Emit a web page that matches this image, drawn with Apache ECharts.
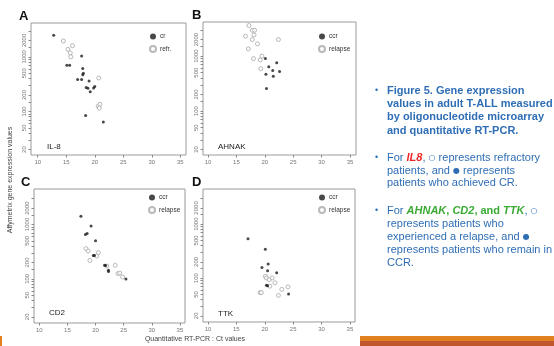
<!DOCTYPE html>
<html>
<head>
<meta charset="utf-8">
<script src="https://cdn.jsdelivr.net/npm/echarts@6/dist/echarts.min.js"></script>
<style>html,body{margin:0;padding:0;background:#fff;}#c{width:554px;height:346px;}</style>
</head>
<body>
<div id="c"></div>
<script>
// ---- data ----
const xTicks = [10, 15, 20, 25, 30, 35];
const yTicks = [20, 50, 100, 200, 500, 1000, 2000];
const yMinorTicks = [20, 30, 40, 50, 60, 70, 80, 90, 100, 150, 200, 300, 400, 500, 600, 700, 800, 900, 1000, 1500, 2000, 3000];

// A: IL-8
const il8CrCt   = [12.8, 17.7, 15.1, 15.6, 17.9, 18.0, 17.9, 17.0, 17.7, 19.0, 18.5, 18.8, 19.2, 19.8, 20.0, 18.4, 21.5];
const il8CrExpr = [2500, 1040, 700, 700, 610, 500, 470, 385, 385, 360, 275, 265, 230, 270, 285, 84, 64];
const il8RefCt   = [14.5, 16.1, 15.3, 15.7, 15.8, 20.7, 20.6, 20.9, 20.8];
const il8RefExpr = [1950, 1600, 1370, 1180, 1000, 410, 125, 135, 115];

// B: AHNAK
const ahnakRelCt   = [17.2, 17.8, 18.2, 18.1, 16.6, 17.8, 18.7, 22.4, 17.1, 18.0, 19.5, 19.2, 19.3];
const ahnakRelExpr = [3600, 2950, 2950, 2430, 2300, 2000, 1670, 2000, 1350, 900, 1000, 850, 590];
const ahnakCcrCt   = [20.1, 22.1, 20.7, 21.4, 22.6, 20.2, 21.5, 20.3];
const ahnakCcrExpr = [900, 760, 640, 545, 525, 470, 430, 257];

// C: CD2
const cd2CcrCt   = [17.4, 19.2, 18.2, 18.5, 20.0, 19.6, 19.8, 21.6, 21.8, 22.3, 22.3, 25.4];
const cd2CcrExpr = [1420, 940, 655, 685, 500, 270, 268, 178, 176, 144, 136, 99];
const cd2RelCt   = [18.3, 18.7, 20.5, 20.2, 19.0, 23.5, 22.0, 24.0, 24.3, 24.8];
const cd2RelExpr = [360, 325, 303, 263, 218, 177, 172, 125, 128, 108];

// D: TTK
const ttkCcrCt   = [17.05, 20.1, 20.6, 19.5, 20.5, 22.1, 20.3, 20.5, 24.2];
const ttkCcrExpr = [540, 345, 182, 157, 137, 126, 74, 72, 51];
const ttkRelCt   = [20.1, 20.3, 20.8, 21.3, 21.8, 20.9, 23.0, 24.1, 19.2, 19.4, 22.4];
const ttkRelExpr = [108, 101, 94, 101, 82, 71, 62, 69, 54, 54, 48];

// ---- chart ----
const FONT = 'Liberation Sans, Arial, sans-serif';
const zip = (a, b) => a.map((v, i) => [v, b[i]]);

const grids = [
  {left: 31, top: 23, width: 155, height: 132},
  {left: 203, top: 22, width: 153, height: 133},
  {left: 34, top: 189, width: 151, height: 134},
  {left: 203, top: 189, width: 152, height: 133}
];
const xRanges = [[8.82, 36.0], [9.12, 36.06], [9.06, 35.9], [9.12, 35.9]];
const yRanges = [[15.9, 4170], [15.9, 4170], [15.4, 4490], [15.4, 4490]];

const filledStyle = {color: '#1a1a1a'};
const openStyle = {color: '#ffffff', borderColor: '#a8a8a8', borderWidth: 1};

function pts(name, idx, ct, ex, open) {
  return {
    name: name, type: 'scatter', xAxisIndex: idx, yAxisIndex: idx,
    data: zip(ct, ex), symbol: 'circle', symbolSize: open ? 4 : 3,
    itemStyle: open ? openStyle : filledStyle, z: open ? 2 : 3
  };
}

const option = {
  animation: false,
  backgroundColor: '#ffffff',
  textStyle: {fontFamily: FONT},
  grid: grids.map(g => Object.assign({show: true, borderColor: '#9a9a9a', borderWidth: 1, backgroundColor: 'transparent', containLabel: false}, g)),
  xAxis: grids.map((g, i) => ({
    type: 'value', gridIndex: i, min: xRanges[i][0], max: xRanges[i][1],
    axisLine: {show: false},
    splitLine: {show: false},
    axisTick: {show: true, customValues: xTicks, length: 2.5, inside: false, lineStyle: {color: '#888'}},
    axisLabel: {customValues: xTicks, fontSize: 6, color: '#777', margin: 4, fontFamily: FONT}
  })),
  yAxis: grids.map((g, i) => ({
    type: 'log', logBase: 10, gridIndex: i, min: yRanges[i][0], max: yRanges[i][1],
    axisLine: {show: false},
    splitLine: {show: false},
    minorTick: {show: false},
    axisTick: {show: true, customValues: yMinorTicks, length: 2.5, lineStyle: {color: '#888'}},
    axisLabel: {customValues: yTicks, rotate: 90, fontSize: 6, color: '#777', margin: 4, fontFamily: FONT,
                formatter: v => String(Math.round(v))}
  })),
  legend: [
    {left: 144, top: 28, orient: 'vertical', itemGap: 5, itemWidth: 6, itemHeight: 6, icon: 'circle',
     textStyle: {fontSize: 6.5, color: '#333', padding: [0, 0, 0, -1]}, data: ['cr', 'refr.'], selectedMode: false},
    {left: 313, top: 28, orient: 'vertical', itemGap: 5, itemWidth: 6, itemHeight: 6, icon: 'circle',
     textStyle: {fontSize: 6.5, color: '#333', padding: [0, 0, 0, -1]}, data: ['ccr', 'relapse'], selectedMode: false},
    {left: 143, top: 189, orient: 'vertical', itemGap: 5, itemWidth: 6, itemHeight: 6, icon: 'circle',
     textStyle: {fontSize: 6.5, color: '#333', padding: [0, 0, 0, -1]}, data: ['ccr', 'relapse'], selectedMode: false},
    {left: 313, top: 189, orient: 'vertical', itemGap: 5, itemWidth: 6, itemHeight: 6, icon: 'circle',
     textStyle: {fontSize: 6.5, color: '#333', padding: [0, 0, 0, -1]}, data: ['ccr', 'relapse'], selectedMode: false}
  ],
  series: [
    pts('cr', 0, il8CrCt, il8CrExpr, false),
    pts('refr.', 0, il8RefCt, il8RefExpr, true),
    pts('ccr', 1, ahnakCcrCt, ahnakCcrExpr, false),
    pts('relapse', 1, ahnakRelCt, ahnakRelExpr, true),
    pts('ccr', 2, cd2CcrCt, cd2CcrExpr, false),
    pts('relapse', 2, cd2RelCt, cd2RelExpr, true),
    pts('ccr', 3, ttkCcrCt, ttkCcrExpr, false),
    pts('relapse', 3, ttkRelCt, ttkRelExpr, true)
  ],
  graphic: []
};

const G = option.graphic;
function txt(x, y, text, style, extra) {
  G.push(Object.assign({type: 'text', x: x, y: y, silent: true,
    style: Object.assign({text: text, fontFamily: FONT, verticalAlign: 'middle', align: 'left'}, style)}, extra || {}));
}
// panel letters
[['A', 19, 16], ['B', 192, 15], ['C', 21, 182], ['D', 192, 182]].forEach(p =>
  txt(p[1], p[2], p[0], {fontSize: 13, fontWeight: 'bold', fill: '#111'}));
// panel gene labels
[['IL-8', 47, 147], ['AHNAK', 218, 147], ['CD2', 49, 313], ['TTK', 218, 314]].forEach(p =>
  txt(p[1], p[2], p[0], {fontSize: 8, fill: '#222'}));
// axis titles
txt(195, 339, 'Quantitative RT-PCR : Ct values', {fontSize: 7, fill: '#444', align: 'center'});
txt(10, 180, 'Affymetrix gene expression values', {fontSize: 7, fill: '#444', align: 'center'}, {rotation: Math.PI / 2});

// right side text
const BLUE = '#2F6EB5';
const GREEN = '#3BAA35';
const rich = {
  b: {fontSize: 11, fontWeight: 'bold', fill: BLUE, fontFamily: FONT},
  n: {fontSize: 11, fill: BLUE, fontFamily: FONT},
  r: {fontSize: 11, fontWeight: 'bold', fontStyle: 'italic', fill: '#F02828', fontFamily: FONT},
  g: {fontSize: 11, fontWeight: 'bold', fontStyle: 'italic', fill: GREEN, fontFamily: FONT},
  gb: {fontSize: 11, fontWeight: 'bold', fill: GREEN, fontFamily: FONT},
  s: {fontSize: 8, fill: BLUE, fontFamily: 'DejaVu Sans'}
};
function line(y, text) { txt(387, y, text, {rich: rich, fill: BLUE}); }
function bullet(y) { txt(375, y, '•', {fontSize: 9, fill: BLUE}); }
bullet(91);
line(91, '{b|Figure 5. Gene expression}');
line(104, '{b|values in adult T-ALL measured}');
line(117, '{b|by oligonucleotide microarray}');
line(131, '{b|and quantitative RT-PCR.}');
bullet(158);
line(158, '{n|For }{r|IL8}{n|, }{s|○}{n| represents refractory}');
line(171, '{n|patients, and }{s|●}{n| represents}');
line(183, '{n|patients who achieved CR.}');
bullet(211);
line(211, '{n|For }{g|AHNAK}{gb|, }{g|CD2}{gb|, and }{g|TTK}{n|, }{s|○}');
line(224, '{n|represents patients who}');
line(237, '{n|experienced a relapse, and }{s|●}');
line(250, '{n|represents patients who remain in}');
line(263, '{n|CCR.}');

// orange footer bars
G.push({type: 'rect', silent: true, shape: {x: 360, y: 336, width: 194, height: 5}, style: {fill: '#E2801F'}});
G.push({type: 'rect', silent: true, shape: {x: 360, y: 341, width: 194, height: 5}, style: {fill: '#C0572C'}});
G.push({type: 'rect', silent: true, shape: {x: 0, y: 336, width: 2, height: 10}, style: {fill: '#E2801F'}});

const chart = echarts.init(document.getElementById('c'), null, {renderer: 'canvas'});
chart.setOption(option);
</script>
</body>
</html>
